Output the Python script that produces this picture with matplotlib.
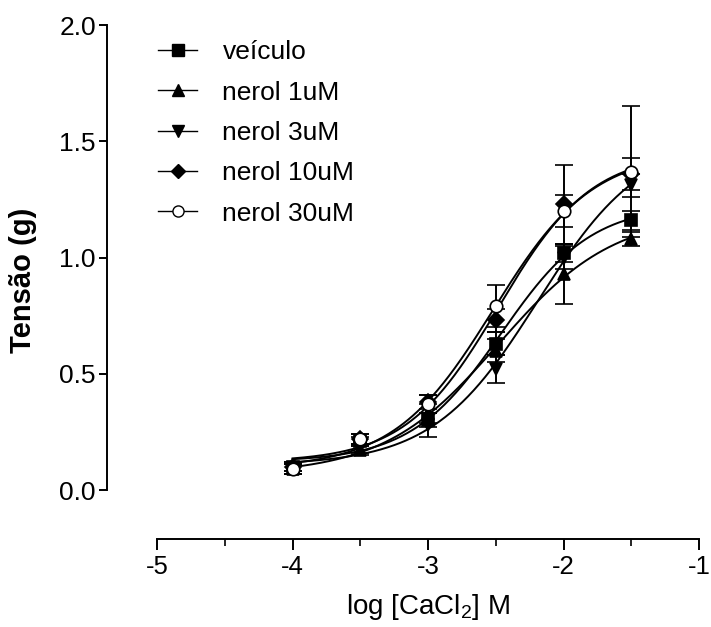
import matplotlib.pyplot as plt
import numpy as np
from matplotlib.lines import Line2D

plt.rcParams["font.family"] = ["Liberation Sans", "DejaVu Sans"]
plt.rcParams["mathtext.default"] = "regular"

# log [CaCl2] (M)
log_ca = np.array([-4.0, -3.5, -3.0, -2.5, -2.0, -1.5])

labels = ["veículo", "nerol 1uM", "nerol 3uM", "nerol 10uM", "nerol 30uM"]

veiculo = [0.10, 0.21, 0.30, 0.63, 1.02, 1.16]
veiculo_err = [0.02, 0.02, 0.03, 0.05, 0.04, 0.04]
nerol_1 = [0.09, 0.17, 0.33, 0.60, 0.93, 1.08]
nerol_1_err = [0.02, 0.02, 0.04, 0.05, 0.13, 0.03]
nerol_3 = [0.09, 0.18, 0.28, 0.52, 1.00, 1.31]
nerol_3_err = [0.02, 0.02, 0.05, 0.06, 0.05, 0.05]
nerol_10 = [0.10, 0.22, 0.38, 0.73, 1.23, 1.36]
nerol_10_err = [0.02, 0.02, 0.03, 0.05, 0.17, 0.07]
nerol_30 = [0.09, 0.22, 0.37, 0.79, 1.20, 1.37]
nerol_30_err = [0.02, 0.02, 0.04, 0.09, 0.07, 0.28]

series = [veiculo, nerol_1, nerol_3, nerol_10, nerol_30]
errors = [veiculo_err, nerol_1_err, nerol_3_err, nerol_10_err, nerol_30_err]
markers = ["s", "^", "v", "D", "o"]
sizes = [9, 9, 9, 8, 9]


def fit_sigmoid(x, y):
    # 4-parameter logistic: grid over logEC50 and Hill slope,
    # bottom/top solved by linear least squares
    y = np.asarray(y, dtype=float)
    best = None
    for ec50 in np.linspace(-3.5, -1.0, 251):
        for hill in np.linspace(0.4, 2.5, 106):
            f = 1.0 / (1.0 + 10 ** ((ec50 - x) * hill))
            A = np.column_stack([1 - f, f])
            coef, *_ = np.linalg.lstsq(A, y, rcond=None)
            sse = np.sum((A @ coef - y) ** 2)
            if best is None or sse < best[0]:
                best = (sse, coef[0], coef[1], ec50, hill)
    return best[1:]


def sigmoid(x, bottom, top, ec50, hill):
    return bottom + (top - bottom) / (1.0 + 10 ** ((ec50 - x) * hill))


fig = plt.figure(figsize=(7.11, 6.27), dpi=100)
ax = fig.add_axes([0.2208, 0.2185, 0.7625, 0.7415])

x_fit = np.linspace(log_ca.min(), log_ca.max(), 300)
handles = []
for y, err, m, ms, lab in zip(series, errors, markers, sizes, labels):
    params = fit_sigmoid(log_ca, y)
    ax.plot(x_fit, sigmoid(x_fit, *params), color="black", lw=1.4, zorder=2)
    face = "white" if m == "o" else "black"
    ax.errorbar(log_ca, y, yerr=err, fmt=m, ms=ms, mfc=face, mec="black",
                mew=1.2, ecolor="black", elinewidth=1.4, capsize=6.5,
                capthick=1.4, zorder=3)
    handles.append(Line2D([], [], color="black", lw=1.0, marker=m, ms=ms - 1,
                          mfc=face, mec="black", mew=1.0, label=lab))

ax.set_xlim(-5, -1)
ax.set_ylim(0, 2.0)
ax.set_xticks([-5, -4, -3, -2, -1])
ax.set_xticklabels(["-5", "-4", "-3", "-2", "-1"])
ax.set_xticks(np.arange(-4.5, -1, 1.0), minor=True)
ax.set_yticks([0.0, 0.5, 1.0, 1.5, 2.0])
ax.set_yticklabels(["0.0", "0.5", "1.0", "1.5", "2.0"])

for side in ["top", "right"]:
    ax.spines[side].set_visible(False)
ax.spines["left"].set_position(("outward", 36))
ax.spines["bottom"].set_position(("outward", 35))
ax.spines["left"].set_linewidth(1.4)
ax.spines["bottom"].set_linewidth(1.4)

ax.tick_params(axis="both", which="major", direction="out", length=6,
               width=1.4, labelsize=19, pad=2)
ax.tick_params(axis="x", which="major", length=8, pad=4, labelsize=18.5)
ax.tick_params(axis="x", which="minor", direction="out", length=5, width=1.2)
ax.tick_params(axis="y", which="minor", left=False)

ax.set_xlabel("log [CaCl$_2$] M", fontsize=20, labelpad=9)
ax.set_ylabel("Tensão (g)", fontsize=21, fontweight="bold")
ax.yaxis.set_label_coords(-0.222, 0.45)

ax.legend(handles=handles, loc="upper left", bbox_to_anchor=(-0.018, 0.99),
          frameon=False, fontsize=19, handlelength=1.5, handletextpad=0.95,
          labelspacing=0.62, borderpad=0, borderaxespad=0.4)

fig.savefig("out.png", dpi=100)
